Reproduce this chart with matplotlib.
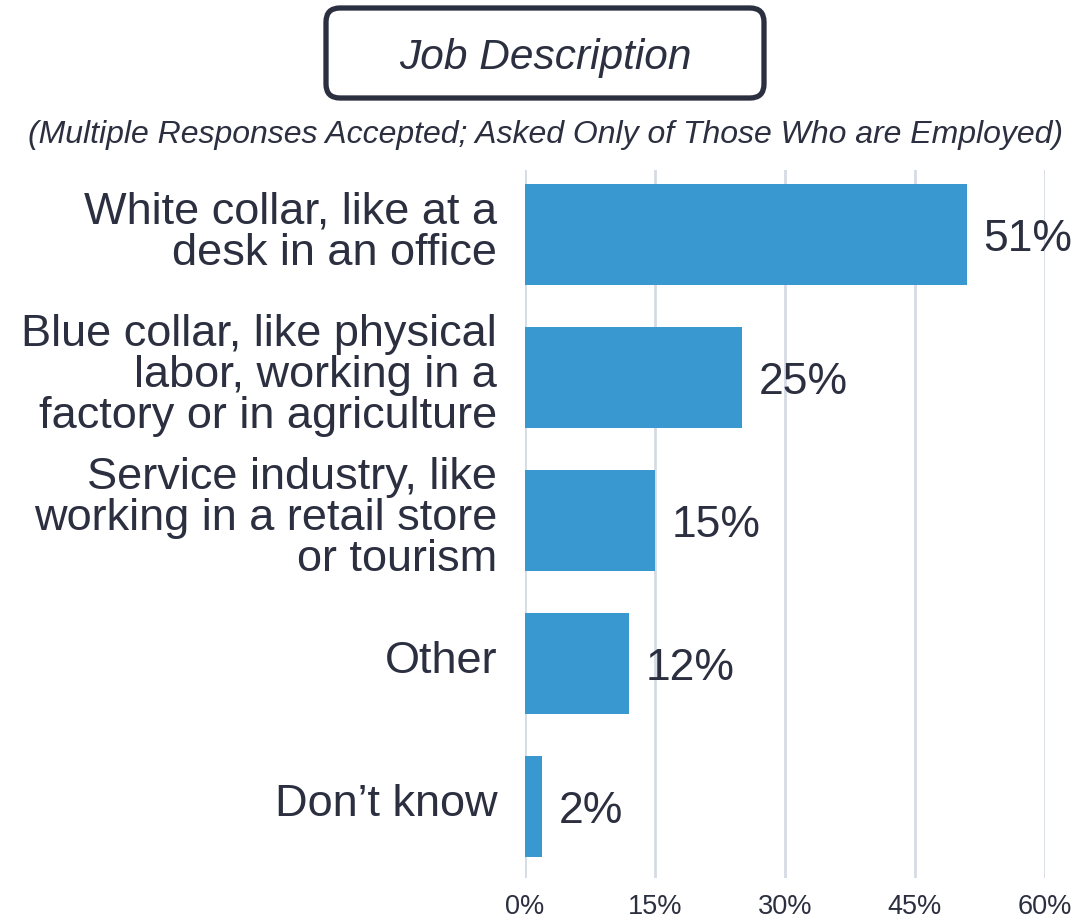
import matplotlib
matplotlib.use("Agg")
import matplotlib.pyplot as plt
from matplotlib.patches import FancyBboxPatch
from matplotlib.transforms import IdentityTransform

# data
categories = [
    "White collar, like at a\ndesk in an office",
    "Blue collar, like physical\nlabor, working in a\nfactory or in agriculture",
    "Service industry, like\nworking in a retail store\nor tourism",
    "Other",
    "Don\u2019t know",
]
values = [51, 25, 15, 12, 2]
xticks = [0, 15, 30, 45, 60]

title = "Job Description"
subtitle = "(Multiple Responses Accepted; Asked Only of Those Who are Employed)"

text_color = "#2b2f3f"
bar_color = "#3a98d0"
grid_color = "#d6dae4"

plt.rcParams["font.family"] = ["Liberation Sans", "DejaVu Sans"]

W, H = 1089, 920
fig = plt.figure(figsize=(W / 100, H / 100), dpi=100)

ax = fig.add_axes([525 / W, 1 - 879 / H, 520 / W, (879 - 171) / H])
y = range(len(categories))
ax.barh(list(y), values, height=0.71, color=bar_color, zorder=3)
ax.set_ylim(len(categories) - 0.5, -0.45)
ax.set_xlim(0, 60)

ax.set_xticks(xticks)
ax.set_xticklabels([f"{t}%" for t in xticks], fontsize=19.5, color=text_color)
ax.set_yticks(list(y))
ax.set_yticklabels([])
ax.tick_params(axis="both", length=0)
ax.tick_params(axis="x", pad=11)
ax.grid(axis="x", color=grid_color, linewidth=2, zorder=0)
for s in ax.spines.values():
    s.set_visible(False)

# category labels, a touch above the bar centre like the original
for i, cat in enumerate(categories):
    ax.annotate(cat, (0, i), xytext=(-20, 1.8), textcoords="offset points",
                va="center", ha="right", fontsize=32.5, color=text_color,
                linespacing=1.0, annotation_clip=False)

for i, v in enumerate(values):
    ax.annotate(f"{v}%", (v, i), xytext=(12, -3), textcoords="offset points",
                va="center", ha="left", fontsize=32, color=text_color,
                annotation_clip=False)

# title box
box = FancyBboxPatch((326, H - 99), 438, 90,
                     boxstyle="round,pad=0,rounding_size=14",
                     transform=IdentityTransform(), facecolor="white",
                     edgecolor=text_color, linewidth=3.8)
fig.add_artist(box)
fig.text(545 / W, 1 - 58 / H, title, ha="center", va="center",
         fontsize=30.5, style="italic", color=text_color)
fig.text(545 / W, 1 - 135 / H, subtitle, ha="center", va="center",
         fontsize=23, style="italic", color=text_color)

fig.savefig("out.png", dpi=100)
